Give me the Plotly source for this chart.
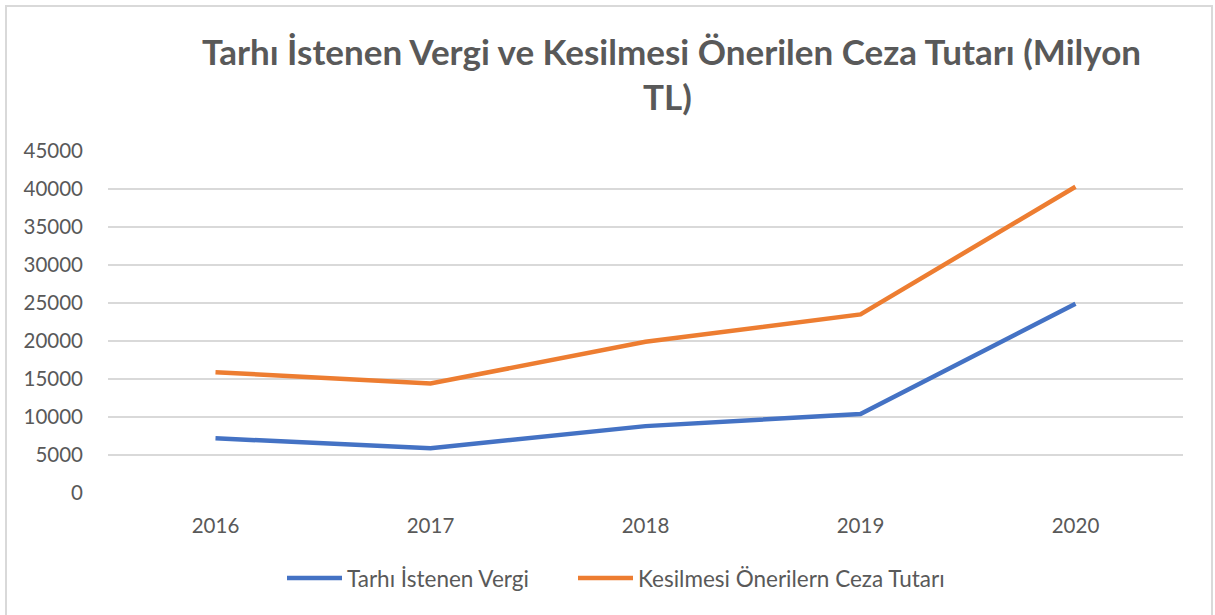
import plotly.graph_objects as go

years = ["2016", "2017", "2018", "2019", "2020"]
vergi = [7200, 5900, 8800, 10400, 24900]
ceza = [15900, 14400, 19900, 23500, 40300]
y_ticks = [0, 5000, 10000, 15000, 20000, 25000, 30000, 35000, 40000, 45000]

title_line1 = "Tarhı İstenen Vergi ve Kesilmesi Önerilen Ceza Tutarı (Milyon"
title_line2 = "TL)"
name_vergi = "Tarhı İstenen Vergi"
name_ceza = "Kesilmesi Önerilern Ceza Tutarı"
colors = ["#4472C4", "#ED7D31"]

W, H = 1215, 615
PL, PR, PT, PB = 108, 1183, 151, 493  # target plot area in screenshot pixels
L, T = PL, PT
R, B = W - PR, H - PB
pw, ph = PR - PL, PB - PT

def px_x(x):
    return (x - PL) / pw

def px_y(y):
    return (PB - y) / ph

FONT = "Lato, Open Sans, sans-serif"
GRAY = "#595959"

idx = list(range(len(years)))
fig = go.Figure()
fig.add_trace(go.Scatter(x=idx, y=vergi, mode="lines", name=name_vergi,
                         line=dict(color=colors[0], width=4.5)))
fig.add_trace(go.Scatter(x=idx, y=ceza, mode="lines", name=name_ceza,
                         line=dict(color=colors[1], width=4.5)))

shapes = [dict(type="rect", xref="paper", yref="paper",
               x0=px_x(6), x1=px_x(1212), y0=px_y(640), y1=px_y(6),
               line=dict(color="#d9d9d9", width=2), fillcolor="rgba(0,0,0,0)", layer="below")]
annotations = [
    dict(text="<b>" + title_line1 + "</b>", xref="paper", yref="paper",
         x=px_x(671), y=px_y(51), xanchor="center", yanchor="middle", showarrow=False,
         font=dict(family=FONT, size=35, color=GRAY)),
    dict(text="<b>" + title_line2 + "</b>", xref="paper", yref="paper",
         x=px_x(667), y=px_y(96), xanchor="center", yanchor="middle", showarrow=False,
         font=dict(family=FONT, size=35, color=GRAY)),
]
# manual legend
legend_items = [(name_vergi, colors[0], 287), (name_ceza, colors[1], 578)]
for name, col, x0 in legend_items:
    shapes.append(dict(type="line", xref="paper", yref="paper",
                       x0=px_x(x0), x1=px_x(x0 + 55), y0=px_y(578), y1=px_y(578),
                       line=dict(color=col, width=4.5)))
    annotations.append(dict(text=name, xref="paper", yref="paper",
                            x=px_x(x0 + 58), y=px_y(578), xanchor="left", yanchor="middle",
                            showarrow=False, font=dict(family=FONT, size=22.5, color=GRAY)))

fig.update_layout(
    width=W, height=H,
    margin=dict(l=L, r=R, t=T, b=B, autoexpand=False),
    paper_bgcolor="white", plot_bgcolor="white",
    font=dict(family=FONT, color=GRAY, size=20),
    showlegend=False,
    xaxis=dict(range=[-0.5, 4.5], tickvals=idx, ticktext=years, showgrid=False,
               zeroline=False, showline=False, ticks="", ticklabelstandoff=18,
               tickfont=dict(family=FONT, size=20.5, color=GRAY)),
    yaxis=dict(range=[0, 45000], tickvals=y_ticks, ticktext=[str(v) for v in y_ticks],
               showgrid=True, gridcolor="#d9d9d9", gridwidth=1.5, zeroline=False,
               showline=False, ticks="", ticklabelstandoff=24,
               tickfont=dict(family=FONT, size=20.5, color=GRAY)),
    shapes=shapes,
    annotations=annotations,
)

fig.write_html("out.html", config={"displayModeBar": False},
               post_script="document.body.style.margin='0';document.body.style.overflow='hidden';")
